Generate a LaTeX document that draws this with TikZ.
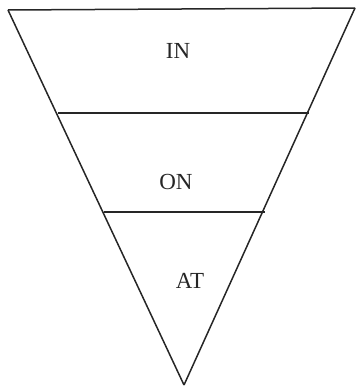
\documentclass[tikz,border=0pt]{standalone}
\usepackage{fontspec}
\setmainfont{Liberation Serif}
\begin{document}
\begin{tikzpicture}[x=1pt,y=-1pt,
  edge/.style={line width=1.5pt,black!85},
  lbl/.style={font=\fontsize{23}{26}\selectfont,text=black!85,inner sep=0pt}]
\useasboundingbox (0,0) rectangle (358,388);
\coordinate (tl) at (8,10);
\coordinate (tr) at (355,8);
\coordinate (ap) at (184,385);
\coordinate (a1) at (58,113);
\coordinate (b1) at (309,113);
\coordinate (a2) at (104,212);
\coordinate (b2) at (265,212);
\draw[edge] (tl) -- (tr);
\draw[edge] (tl) -- (ap);
\draw[edge] (tr) -- (ap);
\draw[edge] (a1) -- (b1);
\draw[edge] (a2) -- (b2);
\node[lbl] (in) at (178,51) {IN};
\node[lbl] (on) at (176,182) {ON};
\node[lbl] (at) at (190,281) {AT};
\end{tikzpicture}
\end{document}
